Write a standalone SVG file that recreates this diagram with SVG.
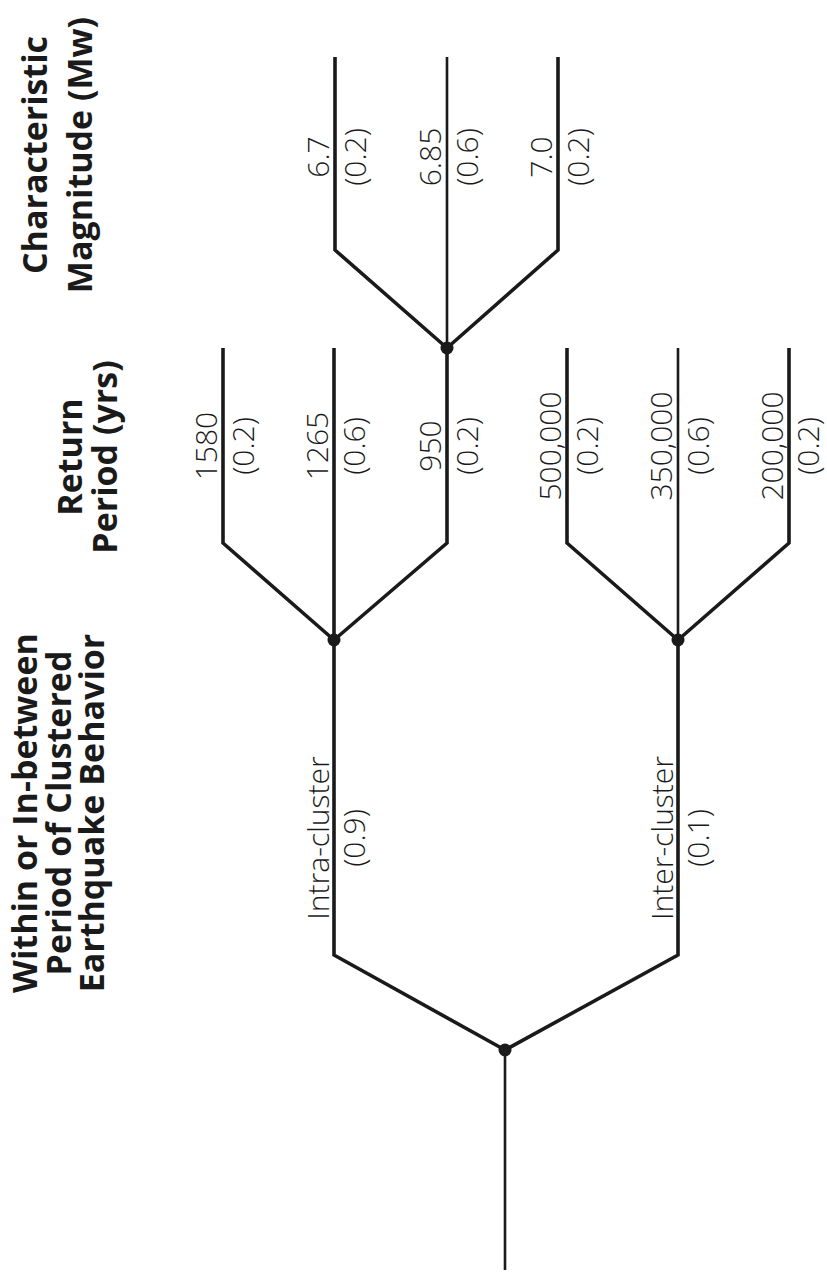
<svg xmlns="http://www.w3.org/2000/svg" width="827" height="1281" viewBox="0 0 827 1281">
<style>
.head{font-family:"Open Sans","Liberation Sans",sans-serif;font-weight:700;font-size:34px;fill:#1a1a1a;text-anchor:middle}
.lbl{font-family:"Open Sans","Liberation Sans",sans-serif;font-weight:300;font-size:30px;fill:#1a1a1a;text-anchor:middle}
.br{fill:none;stroke:#1a1a1a;stroke-width:3.6;stroke-linejoin:miter}
.thin{fill:none;stroke:#1a1a1a;stroke-width:2.6}
.dot{fill:#1a1a1a}
</style>
<rect width="827" height="1281" fill="#ffffff"/>
<g id="headings">
<g id="h-magnitude">
<text class="head" transform="translate(47,155) rotate(-90)">Characteristic</text>
<text class="head" transform="translate(92,155) rotate(-90)">Magnitude (Mw)</text>
</g>
<g id="h-return">
<text class="head" transform="translate(82,457) rotate(-90)">Return</text>
<text class="head" transform="translate(117,457) rotate(-90)">Period (yrs)</text>
</g>
<g id="h-cluster">
<text class="head" transform="translate(37,813) rotate(-90)">Within or In-between</text>
<text class="head" transform="translate(71,813) rotate(-90)">Period of Clustered</text>
<text class="head" transform="translate(104,813) rotate(-90)">Earthquake Behavior</text>
</g>
</g>
<g id="connectors">
<path class="thin" d="M505,1270 V1050"/>
<path class="br" d="M505,1050 L334,955 V640"/>
<path class="br" d="M505,1050 L678,955 V640"/>
<path class="br" d="M334,640 L223,543 V348"/>
<path class="br" d="M334,640 V348"/>
<path class="br" d="M334,640 L447,543 V348"/>
<path class="br" d="M447,348 L335,250 V57"/>
<path class="thin" d="M447,348 V57"/>
<path class="br" d="M447,348 L558,250 V57"/>
<path class="br" d="M678,640 L567,543 V348"/>
<path class="thin" d="M678,640 V348"/>
<path class="br" d="M678,640 L789,543 V348"/>
</g>
<g id="node-root"><circle class="dot" cx="505" cy="1050" r="6.5"/></g>
<g id="node-intra">
<circle class="dot" cx="334" cy="640" r="6.5"/>
<text class="lbl" transform="translate(329,838) rotate(-90)">Intra-cluster</text>
<text class="lbl" transform="translate(365,838) rotate(-90)">(0.9)</text>
</g>
<g id="node-inter">
<circle class="dot" cx="678" cy="640" r="6.5"/>
<text class="lbl" transform="translate(673,838) rotate(-90)">Inter-cluster</text>
<text class="lbl" transform="translate(709,838) rotate(-90)">(0.1)</text>
</g>
<g id="leaf-1580">
<text class="lbl" transform="translate(217,446) rotate(-90)">1580</text>
<text class="lbl" transform="translate(254,446) rotate(-90)">(0.2)</text>
</g>
<g id="leaf-1265">
<text class="lbl" transform="translate(328,446) rotate(-90)">1265</text>
<text class="lbl" transform="translate(365,446) rotate(-90)">(0.6)</text>
</g>
<g id="node-950">
<circle class="dot" cx="447" cy="348" r="6.5"/>
<text class="lbl" transform="translate(441,446) rotate(-90)">950</text>
<text class="lbl" transform="translate(478,446) rotate(-90)">(0.2)</text>
</g>
<g id="leaf-500000">
<text class="lbl" transform="translate(561,446) rotate(-90)">500,000</text>
<text class="lbl" transform="translate(598,446) rotate(-90)">(0.2)</text>
</g>
<g id="leaf-350000">
<text class="lbl" transform="translate(672,446) rotate(-90)">350,000</text>
<text class="lbl" transform="translate(709,446) rotate(-90)">(0.6)</text>
</g>
<g id="leaf-200000">
<text class="lbl" transform="translate(783,446) rotate(-90)">200,000</text>
<text class="lbl" transform="translate(819,446) rotate(-90)">(0.2)</text>
</g>
<g id="leaf-6.7">
<text class="lbl" transform="translate(329,157) rotate(-90)">6.7</text>
<text class="lbl" transform="translate(366,157) rotate(-90)">(0.2)</text>
</g>
<g id="leaf-6.85">
<text class="lbl" transform="translate(441,157) rotate(-90)">6.85</text>
<text class="lbl" transform="translate(478,157) rotate(-90)">(0.6)</text>
</g>
<g id="leaf-7.0">
<text class="lbl" transform="translate(552,157) rotate(-90)">7.0</text>
<text class="lbl" transform="translate(589,157) rotate(-90)">(0.2)</text>
</g>
</svg>
